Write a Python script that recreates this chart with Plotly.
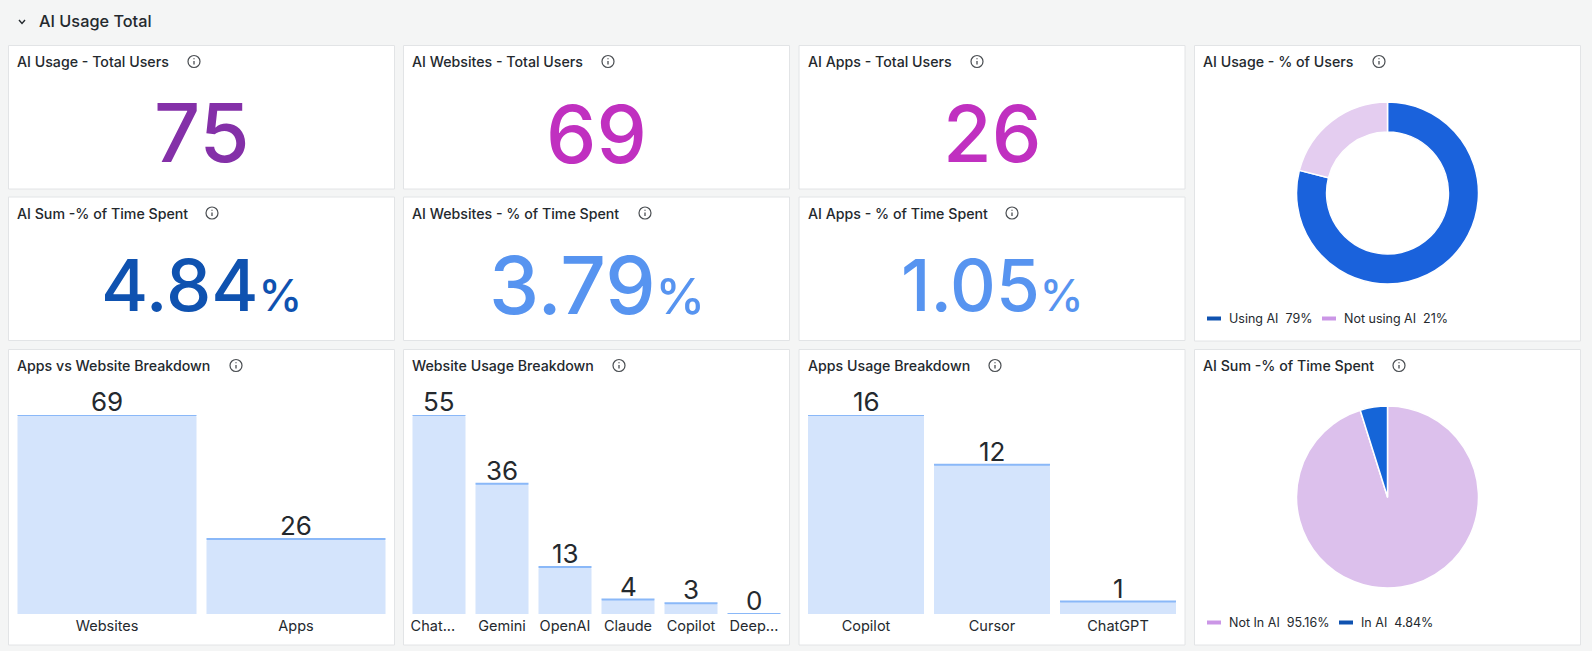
# -*- coding: utf-8 -*-
"""
dashboard "AI Usage Total" : stats, donut, bars, pie
"""

#%% import library
import plotly.graph_objects as go


#%% data
stat_titles = ["AI Usage - Total Users", "AI Websites - Total Users", "AI Apps - Total Users",
               "AI Sum -% of Time Spent", "AI Websites - % of Time Spent", "AI Apps - % of Time Spent"]
stat_values = ["75", "69", "26", "4.84", "3.79", "1.05"]
stat_units = ["", "", "", "%", "%", "%"]
stat_colors = ["#8430a8", "#c030c0", "#c030c0", "#0f52b0", "#5794f0", "#5794f0"]

bar_titles = ["Apps vs Website Breakdown", "Website Usage Breakdown", "Apps Usage Breakdown"]
bar_categories = [["Websites", "Apps"],
                  ["Chat...", "Gemini", "OpenAI", "Claude", "Copilot", "Deep..."],
                  ["Copilot", "Cursor", "ChatGPT"]]
bar_values = [[69, 26],
              [55, 36, 13, 4, 3, 0],
              [16, 12, 1]]

donut_title = "AI Usage - % of Users"
donut_labels = ["Using AI", "Not using AI"]
donut_values = [79, 21]
donut_texts = ["79%", "21%"]

pie_title = "AI Sum -% of Time Spent"
pie_labels = ["Not In AI", "In AI"]
pie_values = [95.16, 4.84]
pie_texts = ["95.16%", "4.84%"]


#%% layout constants
W = 1592
H = 651
FONT = "Inter"
DARK = "#24292e"

col_x = [8.5, 403.5, 799, 1194.5]
panel_w = 386
row_y = [45.5, 197, 349.5]
stat_h = 143.5
tall_h = 295.5

# the dashboard autosizes each big value on its own
stat_sizes = [81, 80, 79, 72, 80, 71]
unit_sizes = [0, 0, 0, 44, 50, 44]

icon_x = [194, 608, 977, 212, 645, 1012]
bar_icon_x = [236, 619, 995]
donut_icon_x = 1379
pie_icon_x = 1399

# tick labels truncated by the dashboard are left aligned, hence the padding
pad = {"Chat...": "\u00a0\u00a0\u00a0"}


def xp(x):
    return x / W


def yp(y):
    return 1 - y / H


fig = go.Figure()
shapes = []
annotations = []


def add_text(x, y, text, size, color=DARK, weight=400, xanchor="left"):
    annotations.append(dict(x=xp(x), y=yp(y), xref="paper", yref="paper", text=text,
                            showarrow=False, xanchor=xanchor, yanchor="middle", align=xanchor,
                            borderpad=0, font=dict(family=FONT, size=size, color=color, weight=weight)))


def add_line(x0, y0, x1, y1, color, width):
    shapes.append(dict(type="line", xref="paper", yref="paper", x0=xp(x0), y0=yp(y0), x1=xp(x1), y1=yp(y1),
                       line=dict(color=color, width=width)))


def add_panel(x, y, h, title, icon):
    shapes.append(dict(type="rect", xref="paper", yref="paper", layer="below",
                       x0=xp(x), y0=yp(y), x1=xp(x + panel_w), y1=yp(y + h),
                       fillcolor="white", line=dict(color="#e2e4e6", width=1)))
    add_text(x + 7.5, y + 16, title, 14.2, weight=500)
    # info icon
    cy = y + 16
    shapes.append(dict(type="circle", xref="paper", yref="paper", x0=xp(icon - 6), y0=yp(cy - 6),
                       x1=xp(icon + 6), y1=yp(cy + 6), line=dict(color="#4a4e52", width=1.2)))
    add_line(icon, cy - 0.5, icon, cy + 3, "#4a4e52", 1.3)
    add_line(icon, cy - 3.2, icon, cy - 2.2, "#4a4e52", 1.3)


def add_legend(y, labels, texts, colors, text_x, swatch_x):
    for label, txt, color, tx, sx in zip(labels, texts, colors, text_x, swatch_x):
        add_line(sx, y, sx + 14, y, color, 4)
        add_text(tx, y, f"{label}\u00a0\u00a0{txt}", 12.5)


#%% header
add_text(37.5, 21.5, "AI Usage Total", 16.3, weight=500)
shapes.append(dict(type="path", xref="paper", yref="paper",
                   path=f"M {xp(19)} {yp(20)} L {xp(22)} {yp(23.5)} L {xp(25)} {yp(20)}",
                   line=dict(color=DARK, width=1.4)))


#%% stats
for i, title in enumerate(stat_titles):
    col = i % 3
    row = i // 3
    add_panel(col_x[col], row_y[row], stat_h, title, icon_x[i])
    unit = f'<span style="font-size:{unit_sizes[i]}px">{stat_units[i]}</span>' if stat_units[i] else ""
    add_text(col_x[col] + panel_w / 2, row_y[row] + 87.5, stat_values[i] + unit, stat_sizes[i],
             color=stat_colors[i], weight=500, xanchor="center")


#%% bars
plot_w = 378
gap_px = 10
base_y = 614
top_y = 415

for i, title in enumerate(bar_titles):
    add_panel(col_x[i], row_y[2], tall_h, title, bar_icon_x[i])
    cats = bar_categories[i]
    vals = bar_values[i]
    ax = "" if i == 0 else str(i + 1)
    left = col_x[i] + 4

    bargap = gap_px / (plot_w / len(cats))
    fig.add_trace(go.Bar(x=list(range(len(cats))), y=vals, marker_color="#d4e4fc", marker_line_width=0,
                         width=1 - bargap, xaxis=f"x{ax}", yaxis=f"y{ax}", showlegend=False))
    # top border of each bar
    fig.add_trace(go.Scatter(x=list(range(len(cats))), y=vals, mode="markers",
                             marker=dict(size=1, color="rgba(0,0,0,0)"),
                             error_x=dict(type="constant", value=(1 - bargap) / 2, thickness=2, width=0,
                                          color="#8ab8f8"),
                             cliponaxis=False, xaxis=f"x{ax}", yaxis=f"y{ax}", showlegend=False))
    # value of each bar
    for n, v in enumerate(vals):
        annotations.append(dict(x=n, y=v, xref=f"x{ax}", yref=f"y{ax}", text=str(v), showarrow=False,
                                xanchor="center", yanchor="bottom", yshift=-3, borderpad=0,
                                font=dict(family=FONT, size=26, color=DARK)))

    fig.update_layout(**{
        f"xaxis{ax}": dict(domain=[xp(left), xp(left + plot_w)], anchor=f"y{ax}",
                           range=[-0.5, len(cats) - 0.5], showgrid=False, zeroline=False, showline=False,
                           tickmode="array", tickvals=list(range(len(cats))),
                           ticktext=[c + pad.get(c, "") for c in cats],
                           ticks="", ticklabelstandoff=1,
                           tickfont=dict(family=FONT, size=14.5, color=DARK)),
        f"yaxis{ax}": dict(domain=[yp(base_y), yp(top_y)], anchor=f"x{ax}", range=[0, max(vals)],
                           showgrid=False, zeroline=False, showline=False, showticklabels=False),
    })


#%% donut
add_panel(col_x[3], row_y[0], tall_h, donut_title, donut_icon_x)
fig.add_trace(go.Pie(labels=donut_labels, values=donut_values, hole=0.67, sort=False, direction="clockwise",
                     textinfo="none", showlegend=False,
                     marker=dict(colors=["#1a62dc", "#e4cdf0"], line=dict(color="white", width=1.5)),
                     domain=dict(x=[xp(1296.5), xp(1478.5)], y=[yp(284), yp(102)])))
add_legend(318.5, donut_labels, donut_texts, ["#0f52b0", "#cb96e6"], [1228, 1343], [1207, 1322])


#%% pie
add_panel(col_x[3], row_y[2], tall_h, pie_title, pie_icon_x)
fig.add_trace(go.Pie(labels=pie_labels, values=pie_values, sort=False, direction="clockwise",
                     textinfo="none", showlegend=False,
                     marker=dict(colors=["#dcc0ec", "#1565d8"], line=dict(color="white", width=1.5)),
                     domain=dict(x=[xp(1296.5), xp(1478.5)], y=[yp(588), yp(406)])))
add_legend(622.5, pie_labels, pie_texts, ["#cb96e6", "#0f52b0"], [1228, 1360], [1207, 1339])


#%% mise en forme
fig.update_layout(
    width=W,
    height=H,
    autosize=False,
    margin={"r": 0, "t": 0, "l": 0, "b": 0},
    paper_bgcolor="#f4f5f5",
    plot_bgcolor="rgba(0,0,0,0)",
    barcornerradius=2,
    shapes=shapes,
    annotations=annotations,
    font=dict(family=FONT, color=DARK))


#%%
fig.write_html("out.html", config={"displayModeBar": False},
               post_script="document.body.style.margin='0';document.body.style.overflow='hidden';")
